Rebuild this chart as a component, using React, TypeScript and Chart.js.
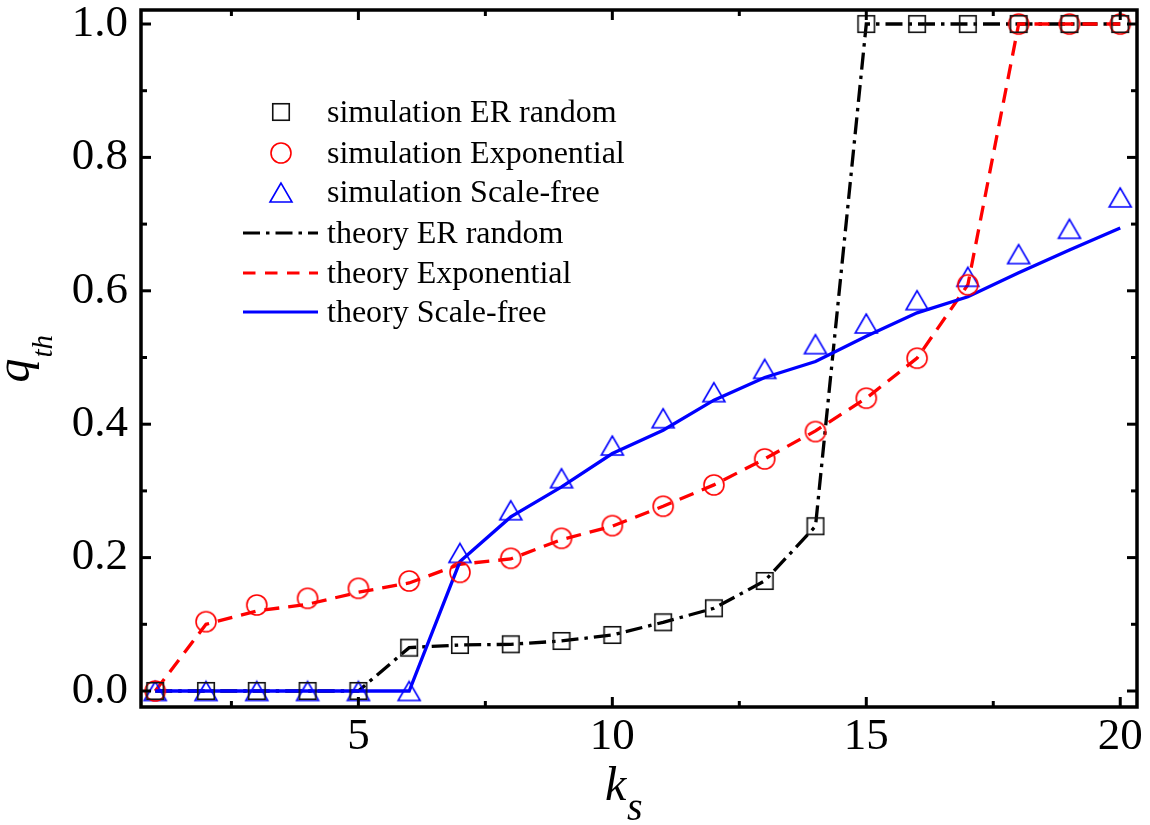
import React, { useEffect, useRef } from 'react';
import { Chart, registerables } from 'chart.js';

Chart.register(...registerables);

// ---------- data ----------
const ks = [1, 2, 3, 4, 5, 6, 7, 8, 9, 10, 11, 12, 13, 14, 15, 16, 17, 18, 19, 20];

const simER = [0, 0, 0, 0, 0, 0.065, 0.069, 0.07, 0.075, 0.084, 0.103, 0.124, 0.165, 0.247, 1.0, 1.0, 1.0, 1.0, 1.0, 1.0];
const simExp = [0, 0.104, 0.129, 0.139, 0.154, 0.165, 0.178, 0.199, 0.229, 0.248, 0.277, 0.309, 0.348, 0.389, 0.439, 0.499, 0.609, 1.0, 1.0, 1.0];
const simSF = [0, 0, 0, 0, 0, 0, 0.207, 0.271, 0.319, 0.368, 0.409, 0.448, 0.483, 0.52, 0.551, 0.586, 0.621, 0.655, 0.693, 0.74];

const theoryER = [0, 0, 0, 0, 0, 0.065, 0.069, 0.07, 0.075, 0.084, 0.103, 0.124, 0.165, 0.247, 1.0, 1.0, 1.0, 1.0, 1.0, 1.0];
const theoryExp = [0, 0.1, 0.12, 0.13, 0.148, 0.162, 0.19, 0.198, 0.227, 0.247, 0.277, 0.309, 0.348, 0.39, 0.439, 0.499, 0.609, 1.0, 1.0, 1.0];
const theorySF = [0, 0, 0, 0, 0, 0, 0.194, 0.261, 0.306, 0.356, 0.391, 0.436, 0.47, 0.494, 0.532, 0.567, 0.591, 0.627, 0.661, 0.694];

const xMajorTicks = [5, 10, 15, 20];
const xMinorTicks = [2.5, 7.5, 12.5, 17.5];
const yMajorTicks = [0, 0.2, 0.4, 0.6, 0.8, 1.0];
const yMinorTicks = [0.1, 0.3, 0.5, 0.7, 0.9];

const xRange = [0.72, 20.33];
const yRange = [-0.024, 1.021];

const legendLabels = [
  'simulation ER random',
  'simulation Exponential',
  'simulation Scale-free',
  'theory ER random',
  'theory Exponential',
  'theory Scale-free',
];

const SERIF = '"Liberation Serif", "Times New Roman", serif';
const BLACK = '#000000';
const RED = '#ff0000';
const BLUE = '#0000ff';
const DASH_DOT = [17, 6, 3.5, 6];
const DASH = [15, 9];

// ---------- marker images ----------
function makeSquare(): HTMLCanvasElement {
  const c = document.createElement('canvas');
  c.width = 20; c.height = 20;
  const g = c.getContext('2d')!;
  g.strokeStyle = '#111';
  g.lineWidth = 1.6;
  g.strokeRect(1.75, 1.75, 16.5, 16.5);
  return c;
}
function makeCircle(): HTMLCanvasElement {
  const c = document.createElement('canvas');
  c.width = 24; c.height = 24;
  const g = c.getContext('2d')!;
  g.strokeStyle = RED;
  g.lineWidth = 1.6;
  g.beginPath();
  g.arc(12, 12, 10, 0, Math.PI * 2);
  g.stroke();
  return c;
}
function makeTriangle(): HTMLCanvasElement {
  const c = document.createElement('canvas');
  c.width = 26; c.height = 23;
  const g = c.getContext('2d')!;
  g.strokeStyle = BLUE;
  g.lineWidth = 1.6;
  g.beginPath();
  g.moveTo(13, 2);
  g.lineTo(2, 21);
  g.lineTo(24, 21);
  g.closePath();
  g.stroke();
  return c;
}

const toXY = (ys: number[]) => ks.map((k, i) => ({ x: k, y: ys[i] }));

export default function App() {
  const ref = useRef<HTMLCanvasElement | null>(null);

  useEffect(() => {
    const canvas = ref.current;
    if (!canvas) return;
    const sq = makeSquare();
    const ci = makeCircle();
    const tr = makeTriangle();

    const decorPlugin = {
      id: 'decor',
      afterDraw(chart: any) {
        const { ctx, chartArea: a, scales } = chart;
        const xs = scales.x;
        const ys = scales.y;
        ctx.save();
        // frame
        ctx.strokeStyle = BLACK;
        ctx.lineWidth = 3.5;
        ctx.setLineDash([]);
        ctx.strokeRect(a.left, a.top, a.right - a.left, a.bottom - a.top);
        ctx.lineWidth = 3;
        const seg = (x1: number, y1: number, x2: number, y2: number) => {
          ctx.beginPath();
          ctx.moveTo(x1, y1);
          ctx.lineTo(x2, y2);
          ctx.stroke();
        };
        const MAJ = 10, MIN = 6;
        for (const v of xMajorTicks) {
          const p = xs.getPixelForValue(v);
          seg(p, a.bottom, p, a.bottom - MAJ);
          seg(p, a.top, p, a.top + MAJ);
        }
        for (const v of xMinorTicks) {
          const p = xs.getPixelForValue(v);
          seg(p, a.bottom, p, a.bottom - MIN);
          seg(p, a.top, p, a.top + MIN);
        }
        for (const v of yMajorTicks) {
          const p = ys.getPixelForValue(v);
          seg(a.left, p, a.left + MAJ, p);
          seg(a.right, p, a.right - MAJ, p);
        }
        for (const v of yMinorTicks) {
          const p = ys.getPixelForValue(v);
          seg(a.left, p, a.left + MIN, p);
          seg(a.right, p, a.right - MIN, p);
        }

        // axis titles
        ctx.fillStyle = BLACK;
        ctx.textAlign = 'left';
        ctx.textBaseline = 'alphabetic';
        const cx = (a.left + a.right) / 2;
        ctx.font = `italic 48px ${SERIF}`;
        ctx.fillText('k', cx - 34, 800);
        ctx.font = `italic 40px ${SERIF}`;
        ctx.fillText('s', cx - 12, 820);

        const cy = (a.top + a.bottom) / 2;
        ctx.save();
        ctx.translate(29, cy + 24);
        ctx.rotate(-Math.PI / 2);
        ctx.font = `italic 48px ${SERIF}`;
        ctx.fillText('q', 0, 0);
        ctx.font = `italic 29px ${SERIF}`;
        ctx.fillText('th', 25, 23);
        ctx.restore();

        // legend
        const lx = a.left + 102;
        const symX = a.left + 140;
        const tx = a.left + 186;
        const rows = [112, 153, 192, 233, 273, 312];
        const imgs = [sq, ci, tr];
        ctx.font = `32px ${SERIF}`;
        rows.forEach((ry, i) => {
          if (i < 3) {
            const im = imgs[i];
            ctx.drawImage(im, Math.round(symX - im.width / 2), Math.round(ry - im.height / 2));
          } else {
            ctx.lineWidth = 3.2;
            ctx.lineCap = 'butt';
            ctx.strokeStyle = i === 3 ? BLACK : i === 4 ? RED : BLUE;
            ctx.setLineDash(i === 3 ? DASH_DOT : i === 4 ? [12.5, 9.5] : []);
            seg(lx, ry, lx + 75, ry);
            ctx.setLineDash([]);
          }
          ctx.fillStyle = BLACK;
          ctx.fillText(legendLabels[i], tx, ry + 10);
        });
        ctx.restore();
      },
    };

    const lineDs = (label: string, ys: number[], color: string, dash: number[]) => ({
      label,
      data: toXY(ys),
      borderColor: color,
      backgroundColor: color,
      borderWidth: 3.3,
      borderDash: dash,
      borderCapStyle: 'butt',
      pointRadius: 0,
      pointHoverRadius: 0,
      showLine: true,
      tension: 0,
    });
    const markDs = (label: string, ys: number[], img: HTMLCanvasElement) => ({
      label,
      data: toXY(ys),
      showLine: false,
      pointStyle: img,
      pointRadius: 10,
      pointHoverRadius: 10,
      borderWidth: 0,
    });

    const chart = new Chart(canvas, {
      type: 'scatter',
      data: {
        datasets: [
          markDs(legendLabels[0], simER, sq),
          markDs(legendLabels[1], simExp, ci),
          markDs(legendLabels[2], simSF, tr),
          lineDs(legendLabels[5], theorySF, BLUE, []),
          lineDs(legendLabels[4], theoryExp, RED, DASH),
          lineDs(legendLabels[3], theoryER, BLACK, DASH_DOT),
        ] as any,
      },
      options: {
        animation: false,
        responsive: false,
        devicePixelRatio: 1,
        events: [],
        layout: { autoPadding: false, padding: { top: 10, right: 13, left: 0, bottom: 0 } },
        plugins: {
          legend: { display: false },
          tooltip: { enabled: false },
          title: { display: false },
        },
        scales: {
          x: {
            type: 'linear',
            min: xRange[0],
            max: xRange[1],
            grid: { display: false, drawTicks: false },
            border: { display: false },
            ticks: {
              color: BLACK,
              font: { family: SERIF, size: 45, lineHeight: 1 },
              padding: 8,
              maxRotation: 0,
              callback: (v: any) => String(v),
            },
            afterBuildTicks: (axis: any) => {
              axis.ticks = xMajorTicks.map((v) => ({ value: v }));
            },
            afterFit: (axis: any) => {
              axis.height = 118;
              axis.paddingLeft = 0;
              axis.paddingRight = 0;
              axis.paddingTop = 0;
              axis.paddingBottom = 0;
            },
          },
          y: {
            type: 'linear',
            min: yRange[0],
            max: yRange[1],
            grid: { display: false, drawTicks: false },
            border: { display: false },
            ticks: {
              color: BLACK,
              font: { family: SERIF, size: 45, lineHeight: 1 },
              padding: 13,
              callback: (v: any) => Number(v).toFixed(1),
            },
            afterBuildTicks: (axis: any) => {
              axis.ticks = yMajorTicks.map((v) => ({ value: v }));
            },
            afterFit: (axis: any) => {
              axis.width = 141;
              axis.paddingLeft = 0;
              axis.paddingRight = 0;
              axis.paddingTop = 0;
              axis.paddingBottom = 0;
            },
          },
        },
      } as any,
      plugins: [decorPlugin],
    });

    return () => chart.destroy();
  }, []);

  return (
    <div style={{ position: 'absolute', left: 0, top: 0, width: 1150, height: 825, background: '#fff' }}>
      <canvas ref={ref} width={1150} height={825} style={{ display: 'block', width: 1150, height: 825 }} />
    </div>
  );
}
